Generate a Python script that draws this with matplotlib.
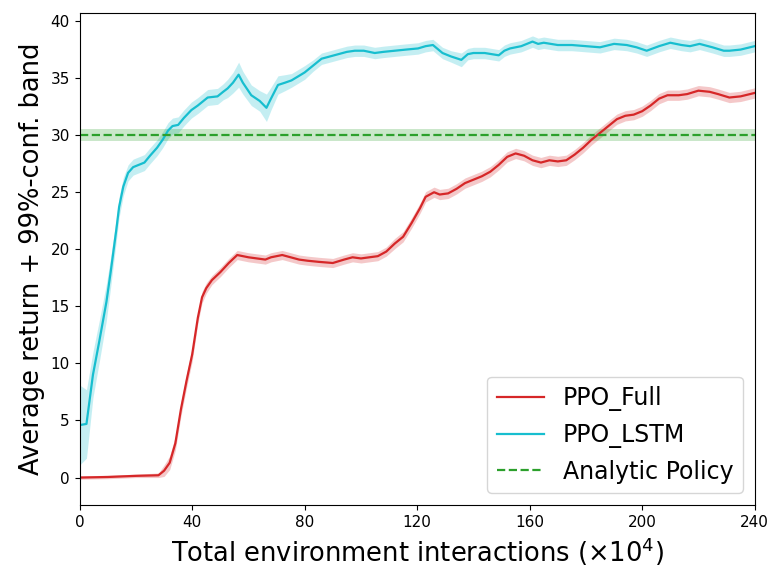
import numpy as np
import matplotlib
matplotlib.use('Agg')
import matplotlib.pyplot as plt

# PPO_Full
full_x = [0, 10, 20, 28, 30, 32, 34, 36, 38, 40, 42, 43.5, 45, 47, 50, 53, 56, 58, 60, 63,
          66, 68, 72, 75, 78, 81, 85, 90, 94, 97, 100, 103, 106, 109, 112, 115, 118, 121,
          123, 126, 128, 131, 134, 137, 140, 143, 146, 149, 152, 155, 158, 161, 164, 167,
          170, 173, 176, 179, 182, 185, 188, 191, 194, 197, 200, 203, 206, 209, 213, 216,
          220, 224, 227, 231, 235, 240]
full_y = [0.0, 0.05, 0.15, 0.2, 0.6, 1.3, 3.0, 6.0, 8.5, 10.8, 14.0, 15.8, 16.6, 17.3, 18.0,
          18.8, 19.5, 19.4, 19.3, 19.2, 19.1, 19.3, 19.5, 19.3, 19.1, 19.0, 18.9, 18.8, 19.1,
          19.3, 19.2, 19.3, 19.4, 19.8, 20.5, 21.1, 22.3, 23.6, 24.6, 25.0, 24.8, 24.9, 25.3,
          25.8, 26.1, 26.4, 26.8, 27.4, 28.1, 28.4, 28.2, 27.8, 27.6, 27.8, 27.7, 27.8, 28.3,
          28.9, 29.6, 30.2, 30.8, 31.4, 31.7, 31.8, 32.1, 32.6, 33.2, 33.5, 33.5, 33.6, 33.9,
          33.8, 33.6, 33.3, 33.4, 33.7]
full_ci = [0.15, 0.15, 0.15, 0.2, 0.5, 0.6, 0.6, 0.6, 0.6, 0.6, 0.5, 0.5, 0.45, 0.4, 0.4,
           0.4, 0.4, 0.4, 0.4, 0.4, 0.4, 0.4, 0.4, 0.4, 0.4, 0.4, 0.4, 0.4, 0.4, 0.4, 0.4,
           0.4, 0.4, 0.4, 0.45, 0.45, 0.45, 0.45, 0.45, 0.45, 0.45, 0.45, 0.45, 0.45, 0.45,
           0.45, 0.45, 0.45, 0.45, 0.45, 0.45, 0.45, 0.45, 0.45, 0.45, 0.45, 0.45, 0.45, 0.45,
           0.45, 0.45, 0.45, 0.45, 0.45, 0.45, 0.45, 0.45, 0.45, 0.45, 0.45, 0.45, 0.45, 0.45,
           0.45, 0.45, 0.45]

# PPO_LSTM
lstm_x = [0, 2.4, 4.7, 7, 9.5, 11, 13, 14, 15.5, 17.2, 19, 21, 23, 25, 27.5, 29.5, 31.4, 33,
          35, 37, 39.7, 42, 45.5, 49, 51, 52.6, 54.5, 56.5, 58, 61, 64, 66.4, 68, 70.5, 73,
          75.3, 78, 80, 83, 86, 89, 92, 95, 97.8, 101, 104.9, 108, 112, 116, 120.3, 123,
          125.6, 129, 132, 135.7, 138, 140, 144, 149, 151, 153, 157, 161, 163, 165, 170, 175,
          180, 185, 190, 194.5, 198, 201.6, 206, 210, 214, 217, 220.4, 225, 229, 231, 235, 240]
lstm_y = [4.6, 4.7, 9.0, 12.0, 15.4, 18.0, 21.7, 23.7, 25.5, 26.7, 27.2, 27.4, 27.6, 28.2,
          28.9, 29.6, 30.4, 30.8, 30.9, 31.5, 32.2, 32.6, 33.3, 33.4, 33.8, 34.1, 34.6, 35.3,
          34.6, 33.5, 33.0, 32.4, 33.2, 34.4, 34.6, 34.8, 35.2, 35.5, 36.1, 36.7, 36.9, 37.1,
          37.3, 37.4, 37.4, 37.2, 37.3, 37.4, 37.5, 37.6, 37.8, 37.9, 37.2, 36.9, 36.6, 37.1,
          37.2, 37.2, 37.0, 37.4, 37.6, 37.8, 38.2, 38.0, 38.1, 37.9, 37.9, 37.8, 37.7, 38.0,
          37.9, 37.7, 37.4, 37.8, 38.1, 37.9, 37.8, 38.0, 37.7, 37.4, 37.4, 37.5, 37.8]
lstm_ci = [3.5, 3.0, 2.0, 1.8, 1.6, 1.3, 1.0, 0.9, 0.8, 0.7, 0.7, 0.7, 0.7, 0.7, 0.7, 0.7,
           0.7, 0.7, 0.7, 0.7, 0.7, 0.7, 0.7, 0.7, 0.7, 0.8, 0.9, 1.1, 1.0, 0.9, 0.9, 1.2,
           1.0, 0.8, 0.7, 0.6, 0.6, 0.6, 0.5, 0.5, 0.5, 0.5, 0.5, 0.5, 0.5, 0.5, 0.5, 0.5,
           0.5, 0.5, 0.5, 0.5, 0.5, 0.5, 0.6, 0.5, 0.5, 0.5, 0.5, 0.5, 0.5, 0.5, 0.5, 0.5,
           0.5, 0.5, 0.5, 0.5, 0.5, 0.5, 0.5, 0.5, 0.5, 0.5, 0.5, 0.5, 0.5, 0.5, 0.5, 0.5,
           0.5, 0.5, 0.5]

# Analytic policy
analytic_value = 30.0
analytic_ci = 0.55

x_ticks = [0, 40, 80, 120, 160, 200, 240]
y_ticks = [0, 5, 10, 15, 20, 25, 30, 35, 40]


def main():
    fig = plt.figure(figsize=(7.74, 5.68), dpi=100)
    ax = fig.add_axes([0.103, 0.111, 0.872, 0.866])

    fx = np.array(full_x)
    fy = np.array(full_y)
    fc = np.array(full_ci)
    lx = np.array(lstm_x)
    ly = np.array(lstm_y)
    lc = np.array(lstm_ci)

    ax.fill_between(fx, fy - fc, fy + fc, color='tab:red', alpha=0.25, lw=0)
    ax.plot(fx, fy, color='tab:red', lw=1.6, label='PPO_Full')

    ax.fill_between(lx, ly - lc, ly + lc, color='tab:cyan', alpha=0.25, lw=0)
    ax.plot(lx, ly, color='tab:cyan', lw=1.6, label='PPO_LSTM')

    ax.axhspan(analytic_value - analytic_ci, analytic_value + analytic_ci,
               color='tab:green', alpha=0.25, lw=0)
    ax.axhline(analytic_value, color='tab:green', ls='--', lw=1.6, label='Analytic Policy')

    ax.set_xlim(0, 240)
    ax.set_ylim(-2.4, 40.7)
    ax.set_xticks(x_ticks)
    ax.set_yticks(y_ticks)
    ax.tick_params(labelsize=11)

    ax.set_xlabel(r'Total environment interactions ($\times 10^4$)', fontsize=18.5)
    ax.set_ylabel('Average return + 99%-conf. band', fontsize=18.5)

    ax.legend(loc='lower right', fontsize=17)

    fig.savefig('out.png', dpi=100)
    plt.close(fig)


if __name__ == "__main__":
    main()
